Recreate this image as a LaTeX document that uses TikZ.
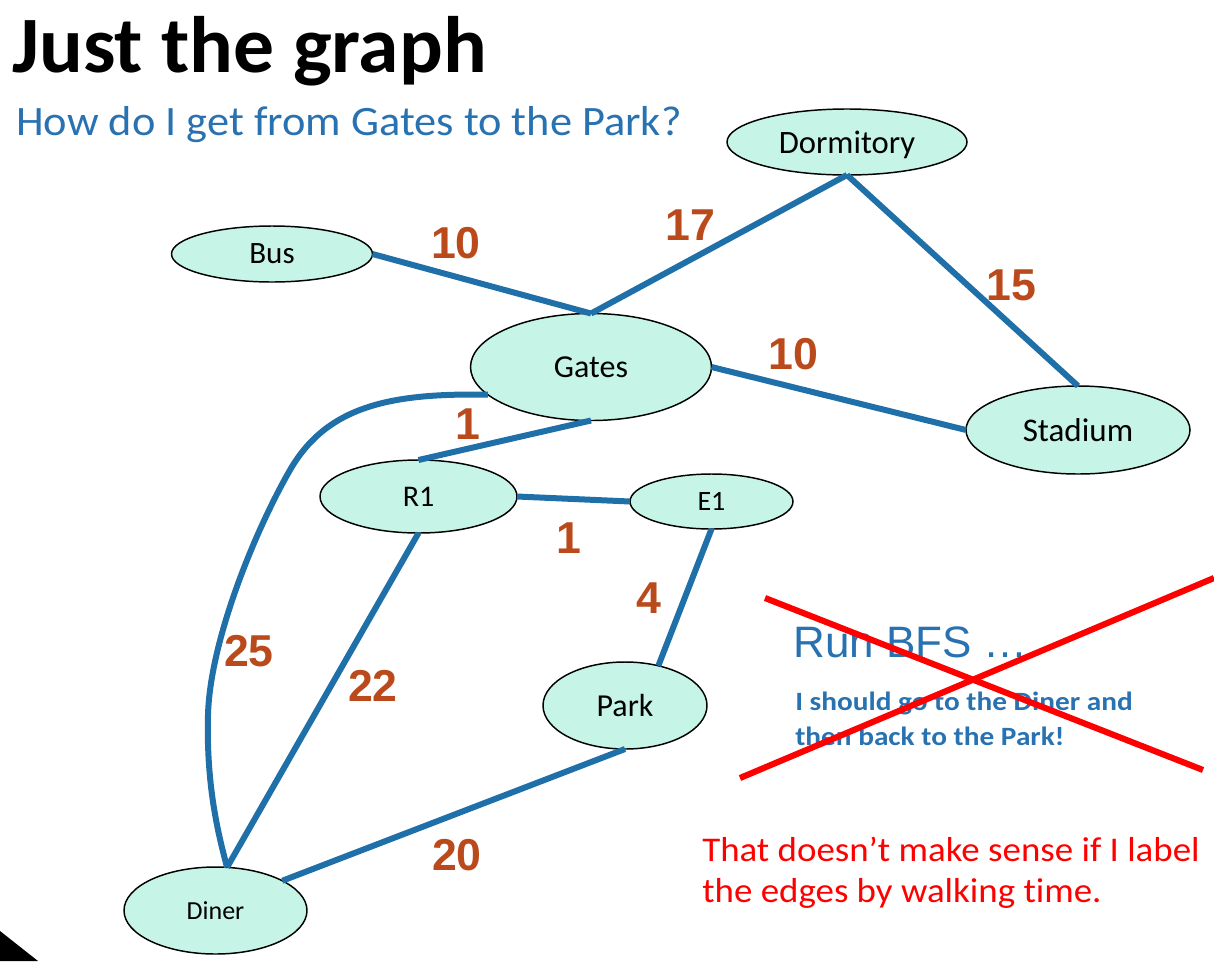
\documentclass[tikz,border=0pt]{standalone}
\usepackage{graphicx}
\usepackage{fontspec}
\setmainfont[Ligatures=NoCommon]{Carlito}
\newfontfamily\arialfont{Liberation Sans}
\usetikzlibrary{shapes.geometric}

\definecolor{roadblue}{RGB}{31,111,168}
\definecolor{headblue}{RGB}{40,114,178}
\definecolor{mint}{RGB}{198,245,231}
\definecolor{wtbrown}{RGB}{186,74,28}

\newcommand{\fs}[1]{\fontsize{#1}{1.2\dimexpr#1pt\relax}\selectfont}
\newcommand{\widen}[2]{\scalebox{#1}[1]{#2}}

\tikzset{
  place/.style={ellipse, draw=black, line width=1.1pt, fill=mint,
    inner sep=0pt, outer sep=0pt, text=black, text depth=0pt},
  road/.style={draw=roadblue, line width=4.5pt},
  weight/.style={font=\arialfont\bfseries\fs{33.5}, text=wtbrown, inner sep=0pt},
  crossout/.style={draw=red, line width=4.6pt},
  txt/.style={anchor=base west, inner sep=0pt}
}

\begin{document}
\begin{tikzpicture}[x=0.75pt, y=-0.75pt]
  \useasboundingbox (0,0) rectangle (1214,961);

  % headings
  \node[txt, font=\bfseries\fs{60}] (title) at (12,72) {\widen{1.02}{Just the graph}};
  \node[txt, font=\fs{31.4}, text=headblue] (question) at (16,135) {\widen{1.06}{How do I get from Gates to the Park?}};

  % places
  \node[place, minimum width=180pt, minimum height=49.5pt, font=\fs{24.5}] (dorm) at (847,142) {Dormitory};
  \node[place, minimum width=150.75pt, minimum height=42pt, font=\fs{23.3}] (bus) at (272,254) {Bus};
  \node[place, minimum width=180.75pt, minimum height=80.25pt, font=\fs{24}] (gates) at (591,367) {Gates};
  \node[place, minimum width=168pt, minimum height=66pt, font=\fs{24.8}] (stadium) at (1078,430) {Stadium};
  \node[place, minimum width=147.75pt, minimum height=54.75pt, font=\fs{22.5}] (r1) at (418.5,496.5) {R1};
  \node[place, minimum width=122.25pt, minimum height=41.25pt, font=\fs{21}] (e1) at (711.5,501.5) {E1};
  \node[place, minimum width=123pt, minimum height=65.25pt, font=\fs{24}] (park) at (625,705.5) {Park};
  \node[place, minimum width=137.25pt, minimum height=65.25pt, font=\fs{19.5}] (diner) at (215.5,910.5) {Diner};

  % roads
  \draw[road] (bus.east) -- (gates.north);
  \draw[road] (gates.north) -- (dorm.south);
  \draw[road] (dorm.south) -- (stadium.north);
  \draw[road] (gates.east) -- (stadium.west);
  \draw[road] (gates.south) -- (r1.north);
  \draw[road] (r1.east) -- (e1.west);
  \draw[road] (e1.south) -- (park.50);
  \draw[road] (r1.south) -- (diner.75);
  \draw[road] (park.south) -- (diner.24);
  \draw[road] (gates.195) .. controls (390,393) and (327,406) .. (290,470)
                          .. controls (255.5,530) and (210,640) .. (208,715)
                          .. controls (206,790) and (220,840) .. (diner.75);

  % walking times
  \node[weight] (wbus)   at (456,243) {10};
  \node[weight] (wdorm)  at (690,225) {17};
  \node[weight] (wstad1) at (1011,285) {15};
  \node[weight] (wstad2) at (793,354) {10};
  \node[weight] (wr1)    at (468,424) {1};
  \node[weight] (we1)    at (569,538) {1};
  \node[weight] (wpark)  at (649,598) {4};
  \node[weight] (wcurve) at (249,651) {25};
  \node[weight] (wdiag)  at (373,686) {22};
  \node[weight] (wdiner) at (457,855) {20};

  % crossed-out BFS remark
  \node[txt, font=\arialfont\fs{33}, text=headblue] (bfs) at (793,657) {Run BFS \dots};
  \node[txt, font=\bfseries\fs{19.8}, text=headblue] (note1) at (795,710) {\widen{1.11}{I should go to the Diner and}};
  \node[txt, font=\bfseries\fs{19.8}, text=headblue] (note2) at (795,745) {\widen{1.11}{then back to the Park!}};
  \coordinate (xa1) at (765,598);
  \coordinate (xa2) at (1203,770);
  \coordinate (xb1) at (740,778);
  \coordinate (xb2) at (1214,578);
  \draw[crossout] (xa1) -- (xa2);
  \draw[crossout] (xb1) -- (xb2);

  % red comment
  \node[txt, font=\fs{26}, text=red] (warn1) at (702,861) {\widen{1.065}{That doesn’t make sense if I label}};
  \node[txt, font=\fs{26}, text=red] (warn2) at (702,902) {\widen{1.065}{the edges by walking time.}};

  % slide corner mark
  \fill[black] (0,931) -- (38,961) -- (0,961) -- cycle;
\end{tikzpicture}
\end{document}
